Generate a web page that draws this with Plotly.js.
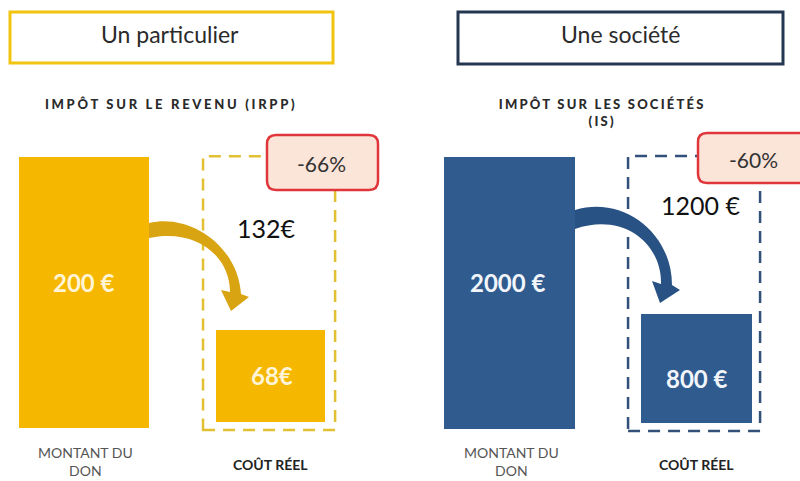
<!DOCTYPE html>
<html>
<head>
<meta charset="utf-8">
<script src="https://cdn.plot.ly/plotly-3.0.1.min.js"></script>
<style>
  html, body { margin: 0; padding: 0; background: #ffffff; }
  #chart { width: 800px; height: 481px; }
  .annotation[data-index="2"] text { letter-spacing: 2.7px; }
  .annotation[data-index="3"] text { letter-spacing: 2.2px; }
</style>
</head>
<body>
<div id="chart"></div>
<script>
// ---------------- data ----------------
const categories = ["MONTANT DU DON", "COÛT RÉEL"];
const categoryLabels = ["MONTANT DU<br>DON", "<b>COÛT RÉEL</b>"];
const panelTitles = ["Un particulier", "Une société"];
const taxTitles = ["IMPÔT SUR LE REVENU (IRPP)", "IMPÔT SUR LES SOCIÉTÉS<br>(IS)"];
const particulierValues = [200, 68];
const societeValues = [2000, 800];
const particulierLabels = ["200 €", "68€"];
const societeLabels = ["2000 €", "800 €"];
const savingLabels = ["132€", "1200 €"];
const reductionLabels = ["-66%", "-60%"];

// ---------------- geometry helpers ----------------
const W = 800, H = 481;
const fx = px => px / W;
const fy = py => 1 - py / H;
const pt = (x, y) => fx(x).toFixed(5) + ',' + fy(y).toFixed(5);

function roundRect(x0, y0, x1, y1, r) {
  return 'M' + pt(x0 + r, y0) + ' L' + pt(x1 - r, y0) + ' Q' + pt(x1, y0) + ' ' + pt(x1, y0 + r) +
    ' L' + pt(x1, y1 - r) + ' Q' + pt(x1, y1) + ' ' + pt(x1 - r, y1) +
    ' L' + pt(x0 + r, y1) + ' Q' + pt(x0, y1) + ' ' + pt(x0, y1 - r) +
    ' L' + pt(x0, y0 + r) + ' Q' + pt(x0, y0) + ' ' + pt(x0 + r, y0) + ' Z';
}
function segPath(segs) {
  return segs.map(s => s[0] + (s.length > 1 ? s.slice(1).map(p => pt(p[0], p[1])).join(' ') : '')).join(' ');
}

// pixel scales of the two panels
const PL = { cx: 84, step: 186, base: 428, k: 1.355 };
const PR = { cx: 509.5, step: 187, base: 429, k: 0.136 };
const plotTop = 150, plotBottom = 440;
const xi = categories.map((_, i) => i);

const gold = '#F5B700', goldDark = '#D9A412', goldDash = '#E2BF33';
const blue = '#2F5B8E', blueDark = '#285283', blueDash = '#33507A';

const traces = [
  {
    type: 'bar', x: xi, y: particulierValues, base: [0, 6 / PL.k], width: [0.70, 0.586],
    marker: { color: gold }, xaxis: 'x', yaxis: 'y', hoverinfo: 'skip', showlegend: false
  },
  {
    type: 'bar', x: xi, y: societeValues, base: [0, 6 / PR.k], width: [0.70, 0.594],
    marker: { color: blue }, xaxis: 'x2', yaxis: 'y2', hoverinfo: 'skip', showlegend: false
  }
];

const shapes = [
  // title boxes
  { type: 'rect', xref: 'paper', yref: 'paper', x0: fx(10), x1: fx(333), y0: fy(63), y1: fy(12),
    line: { color: '#F1C40F', width: 3 }, fillcolor: 'rgba(0,0,0,0)' },
  { type: 'rect', xref: 'paper', yref: 'paper', x0: fx(458), x1: fx(783), y0: fy(64), y1: fy(12),
    line: { color: '#243650', width: 3 }, fillcolor: 'rgba(0,0,0,0)' },
  // dashed boxes (span the full donation)
  { type: 'rect', xref: 'x', yref: 'y', x0: 1 - 0.36, x1: 1 + 0.35,
    y0: -2 / PL.k, y1: particulierValues[0] + 0.5,
    line: { color: goldDash, width: 2.5, dash: '12px,8px' }, fillcolor: 'rgba(0,0,0,0)' },
  { type: 'rect', xref: 'x2', yref: 'y2', x0: 1 - 0.366, x1: 1 + 0.34,
    y0: -2 / PR.k, y1: societeValues[0] + 7,
    line: { color: blueDash, width: 2.5, dash: '12px,8px' }, fillcolor: 'rgba(0,0,0,0)' },
  // curved arrows
  { type: 'path', xref: 'paper', yref: 'paper', fillcolor: goldDark, line: { width: 0 },
    path: segPath([['M', [149, 223]], ['C', [190, 213], [238, 246], [241, 294]], ['L', [249, 297]],
      ['L', [231, 311]], ['L', [221, 290]], ['L', [230, 292]], ['C', [230, 256], [196, 228], [149, 238]], ['Z']]) },
  { type: 'path', xref: 'paper', yref: 'paper', fillcolor: blueDark, line: { width: 0 },
    path: segPath([['M', [575, 210]], ['C', [622, 195], [672, 232], [672, 285]], ['L', [680, 290]],
      ['L', [660, 303]], ['L', [652, 281]], ['L', [661, 284]], ['C', [662, 244], [624, 212], [575, 229]], ['Z']]) },
  // reduction badges
  { type: 'path', xref: 'paper', yref: 'paper', fillcolor: '#FBE4D8',
    line: { color: '#E0353A', width: 2.5 }, path: roundRect(267, 135, 378, 190, 9) },
  { type: 'path', xref: 'paper', yref: 'paper', fillcolor: '#FBE4D8',
    line: { color: '#E0353A', width: 2.5 }, path: roundRect(698, 133, 815, 183, 9) }
];

const annotations = [
  { text: panelTitles[0], xref: 'paper', yref: 'paper', x: fx(170), y: fy(34), showarrow: false,
    xanchor: 'center', yanchor: 'middle', font: { family: 'Lato', size: 23, color: '#2b2b2b' } },
  { text: panelTitles[1], xref: 'paper', yref: 'paper', x: fx(620), y: fy(34), showarrow: false,
    xanchor: 'center', yanchor: 'middle', font: { family: 'Lato', size: 23, color: '#2b2b2b' } },
  { text: taxTitles[0], xref: 'paper', yref: 'paper', x: fx(171), y: fy(104), showarrow: false,
    xanchor: 'center', yanchor: 'middle', font: { family: 'Lato', size: 13, color: '#2a2a2a', weight: 900 } },
  { text: taxTitles[1], xref: 'paper', yref: 'paper', x: fx(602), y: fy(113), showarrow: false,
    xanchor: 'center', yanchor: 'middle', align: 'center',
    font: { family: 'Lato', size: 13, color: '#2a2a2a', weight: 900 } },
  // reduction badge text
  { text: reductionLabels[0], xref: 'paper', yref: 'paper', x: fx(321), y: fy(163), showarrow: false,
    xanchor: 'center', yanchor: 'middle', font: { family: 'Lato', size: 21, color: '#333333' } },
  { text: reductionLabels[1], xref: 'paper', yref: 'paper', x: fx(753), y: fy(159), showarrow: false,
    xanchor: 'center', yanchor: 'middle', font: { family: 'Lato', size: 21, color: '#333333' } },
  // saving labels
  { text: savingLabels[0], xref: 'x', yref: 'paper', x: 0.98, y: fy(228), showarrow: false,
    xanchor: 'center', yanchor: 'middle', font: { family: 'Lato', size: 25, color: '#111111' } },
  { text: savingLabels[1], xref: 'x2', yref: 'paper', x: 1.02, y: fy(205), showarrow: false,
    xanchor: 'center', yanchor: 'middle', font: { family: 'Lato', size: 25, color: '#111111' } },
  // value labels inside the bars
  { text: particulierLabels[0], xref: 'x', yref: 'paper', x: 0, y: fy(282), showarrow: false,
    xanchor: 'center', yanchor: 'middle', font: { family: 'Lato', size: 24, color: '#FFF4D6', weight: 700 } },
  { text: particulierLabels[1], xref: 'x', yref: 'paper', x: 1.01, y: fy(375), showarrow: false,
    xanchor: 'center', yanchor: 'middle', font: { family: 'Lato', size: 24, color: '#FFF4D6', weight: 700 } },
  { text: societeLabels[0], xref: 'x2', yref: 'paper', x: -0.01, y: fy(282), showarrow: false,
    xanchor: 'center', yanchor: 'middle', font: { family: 'Lato', size: 24, color: '#F2F6FB', weight: 700 } },
  { text: societeLabels[1], xref: 'x2', yref: 'paper', x: 1, y: fy(378), showarrow: false,
    xanchor: 'center', yanchor: 'middle', font: { family: 'Lato', size: 24, color: '#F2F6FB', weight: 700 } }
];
// category labels under the bars
['x', 'x2'].forEach(ax => {
  annotations.push({ text: categoryLabels[0], xref: ax, yref: 'paper', x: 0.01, y: fy(461), showarrow: false,
    xanchor: 'center', yanchor: 'middle', align: 'center',
    font: { family: 'Lato', size: 14, color: '#555555' } });
  annotations.push({ text: categoryLabels[1], xref: ax, yref: 'paper', x: 1, y: fy(464), showarrow: false,
    xanchor: 'center', yanchor: 'middle', align: 'center',
    font: { family: 'Lato', size: 14, color: '#222222' } });
});

const axisCommon = { visible: false, showgrid: false, zeroline: false, fixedrange: true };
const layout = {
  width: W, height: H,
  margin: { l: 0, r: 0, t: 0, b: 0, pad: 0 },
  paper_bgcolor: '#ffffff', plot_bgcolor: 'rgba(0,0,0,0)',
  showlegend: false, bargap: 0,
  xaxis: Object.assign({ domain: [0, 0.5], range: [(0 - PL.cx) / PL.step, (400 - PL.cx) / PL.step], anchor: 'y' }, axisCommon),
  yaxis: Object.assign({ domain: [(H - plotBottom) / H, (H - plotTop) / H], range: [(PL.base - plotBottom) / PL.k, (PL.base - plotTop) / PL.k], anchor: 'x' }, axisCommon),
  xaxis2: Object.assign({ domain: [0.5, 1], range: [(400 - PR.cx) / PR.step, (800 - PR.cx) / PR.step], anchor: 'y2' }, axisCommon),
  yaxis2: Object.assign({ domain: [(H - plotBottom) / H, (H - plotTop) / H], range: [(PR.base - plotBottom) / PR.k, (PR.base - plotTop) / PR.k], anchor: 'x2' }, axisCommon),
  shapes: shapes,
  annotations: annotations
};

Plotly.newPlot('chart', traces, layout, { staticPlot: true, displayModeBar: false });
</script>
</body>
</html>
